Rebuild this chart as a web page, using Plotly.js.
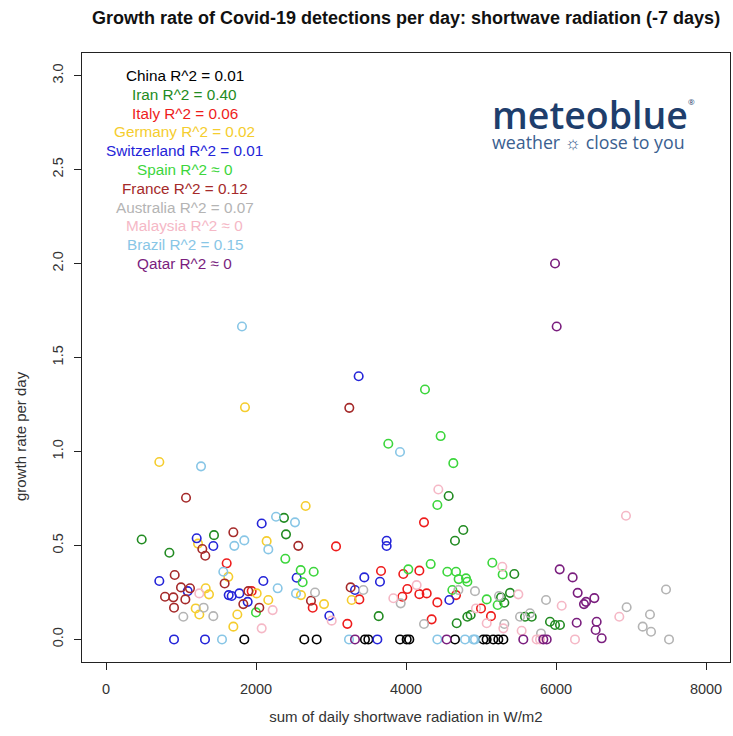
<!DOCTYPE html>
<html>
<head>
<meta charset="utf-8">
<script src="https://cdn.plot.ly/plotly-3.0.1.min.js"></script>
<style>html,body{margin:0;padding:0;background:#fff;}#chart{width:733px;height:736px;}</style>
</head>
<body>
<div id="chart"></div>
<script>
const countries = ["China","Iran","Italy","Germany","Switzerland","Spain","France","Australia","Malaysia","Brazil","Qatar"];
const r2Labels = ["0.01","0.40","0.06","0.02","0.01","≈ 0","0.12","0.07","≈ 0","0.15","≈ 0"];
const colors = ["#000000","#228B22","#EE1C1C","#F5CD2E","#2424D8","#3CD63C","#A52A2A","#B4B4B4","#F5B8C6","#88C6E6","#7A1E7E"];

const chinaX = [1844,2644,2809,3453,3498,3920,4009,4044,4653,5031,5075,5164,5231,5298];
const chinaY = [0,0,0,0,0,0,0,0,0,0,0,0,0,0];

const iranX = [476,845,1440,2373,2400,4569,4764,4653,3636,4818,4862,4676,5444,5387,5267,5311,5587,5676,5920,5987,6053];
const iranY = [0.532,0.461,0.555,0.647,0.559,0.763,0.582,0.525,0.124,0.121,0.13,0.086,0.348,0.248,0.224,0.195,0.121,0.121,0.094,0.077,0.077];

const italyX = [1609,1942,2756,3067,3218,4240,3667,3964,4178,4018,4178,4276,3951,4418,3378,4342,5000,5133,4667];
const italyY = [0.405,0.257,0.169,0.495,0.083,0.623,0.364,0.348,0.366,0.268,0.241,0.245,0.227,0.197,0.213,0.107,0.165,0.124,0.236];

const germanyX = [711,1853,2662,1227,1329,1373,1196,1244,2142,2600,2907,2009,2164,1751,1698,3276,1631];
const germanyY = [0.944,1.235,0.71,0.51,0.272,0.24,0.165,0.133,0.523,0.236,0.188,0.245,0.21,0.133,0.068,0.21,0.333];

const switzerlandX = [1209,1431,711,1089,907,1320,1636,3369,2076,2542,2098,1676,1778,1889,2978,3742,3742,3444,3653,3320,4578,3618];
const switzerlandY = [0.538,0.497,0.311,0.257,0,0,0.236,1.40,0.617,0.328,0.311,0.231,0.245,0.2,0.126,0.525,0.497,0.33,0.307,0.263,0.21,0];

const spainX = [4253,4462,3764,4631,4418,2391,2596,2769,2622,2000,4031,4329,4551,4667,4702,4800,4818,4618,5151,5289,5076,5222];
const spainY = [1.33,1.082,1.041,0.938,0.715,0.429,0.369,0.36,0.304,0.144,0.373,0.401,0.36,0.36,0.321,0.325,0.307,0.263,0.408,0.346,0.213,0.183];

const franceX = [1067,1284,1324,916,1000,1120,787,898,1058,907,1582,3244,1698,2564,2733,1898,1831,2044,3262];
const franceY = [0.754,0.481,0.445,0.343,0.277,0.272,0.227,0.224,0.213,0.169,0.298,1.232,0.57,0.498,0.206,0.257,0.188,0.169,0.277];

const australiaX = [1302,1031,1431,2787,3431,3929,4240,4698,4920,5240,5311,5867,5520,5653,5800,7467,6942,7253,7156,7267,7507];
const australiaY = [0.169,0.121,0.124,0.25,0.263,0.192,0.082,0.263,0.257,0.231,0.082,0.21,0.121,0.139,0.032,0.266,0.171,0.133,0.068,0.041,0];

const malaysiaX = [1244,2222,2076,3009,4431,4142,3831,4933,5284,5498,5076,5298,6076,5542,6253,6933,6844,5742,5787];
const malaysiaY = [0.245,0.156,0.059,0.1,0.798,0.289,0.219,0.165,0.387,0.24,0.086,0.059,0.179,0.046,0,0.658,0.121,0,0];

const brazilX = [1813,3920,1267,1564,1547,2267,2520,1844,1711,2164,2289,2533,3240,4418,4787,4898,4920];
const brazilY = [1.665,0.997,0.921,0.36,0,0.653,0.623,0.527,0.498,0.479,0.272,0.245,0,0,0,0,0];

const qatarX = [5987,6009,6049,6222,6289,6511,6373,6400,6276,6542,6529,6609,3320,4542,5564,5831,5876];
const qatarY = [2.0,1.665,0.373,0.33,0.248,0.22,0.188,0.2,0.089,0.094,0.05,0.006,0,0,0,0,0];

const seriesX = [chinaX,iranX,italyX,germanyX,switzerlandX,spainX,franceX,australiaX,malaysiaX,brazilX,qatarX];
const seriesY = [chinaY,iranY,italyY,germanyY,switzerlandY,spainY,franceY,australiaY,malaysiaY,brazilY,qatarY];

const xTicks = [0,2000,4000,6000,8000];
const yTicks = [0,0.5,1,1.5,2,2.5,3];
const yTickText = ["0.0","0.5","1.0","1.5","2.0","2.5","3.0"];

const traces = countries.map((c,i)=>({
  type:"scatter", mode:"markers", name:c,
  x:seriesX[i], y:seriesY[i],
  marker:{symbol:"circle-open", size:8.5, color:colors[i], line:{width:1.6, color:colors[i]}},
  hoverinfo:"x+y+name"
}));

const font = "Liberation Sans, Arial, sans-serif";
const annotations = countries.map((c,i)=>({
  xref:"x", yref:"y", x:1050, y:3.0-0.1*i,
  text: c + " R^2 " + (r2Labels[i].startsWith("≈") ? r2Labels[i] : "= " + r2Labels[i]),
  showarrow:false, xanchor:"center", yanchor:"middle",
  font:{family:font, size:15.3, color:colors[i]}
}));
annotations.push({xref:"paper", yref:"paper", x:0.630, y:0.944, xanchor:"left", yanchor:"top", align:"left",
  text:"<span style='font-size:37.5px;font-weight:600;fill:#1E3E6C'>meteoblue</span><span style='font-size:8px;fill:#1E3E6C;baseline-shift:24px'>®</span>" +
       "<br><span style='font-size:17.8px;fill:#3A6090'>weather ☼ close to you</span>",
  showarrow:false, font:{family:"Open Sans, sans-serif", size:15.4, color:"#1E3E6C"}});
annotations.push({xref:"paper", yref:"paper", x:-0.0957, y:0.371, xanchor:"center", yanchor:"middle",
  text:"growth rate per day", textangle:-90, showarrow:false,
  font:{family:font, size:15, color:"#333"}});

const layout = {
  width:733, height:736,
  margin:{l:82, r:3, t:53, b:74},
  paper_bgcolor:"#ffffff", plot_bgcolor:"#ffffff",
  showlegend:false,
  title:{text:"<b>Growth rate of Covid-19 detections per day: shortwave radiation (-7 days)</b>",
    x:0.554, xanchor:"center", y:0.976, yanchor:"middle",
    font:{family:font, size:18, color:"#111"}},
  xaxis:{range:[-320,8320], tickvals:xTicks, ticktext:xTicks.map(String), ticks:"outside", ticklen:7, tickcolor:"#222",
    showline:true, mirror:true, linecolor:"#222", linewidth:1.2, showgrid:false, zeroline:false,
    tickfont:{family:font, size:14.5, color:"#333"}, ticklabelstandoff:6,
    title:{text:"sum of daily shortwave radiation in W/m2", font:{family:font, size:15, color:"#333"}, standoff:16}},
  yaxis:{range:[-0.12,3.12], tickvals:yTicks, ticktext:yTickText, tickangle:-90, ticks:"outside", ticklen:7, tickcolor:"#222",
    showline:true, mirror:true, linecolor:"#222", linewidth:1.2, showgrid:false, zeroline:false,
    tickfont:{family:font, size:14.5, color:"#333"}, ticklabelstandoff:5},
  annotations:annotations
};

Plotly.newPlot("chart", traces, layout, {staticPlot:true, displayModeBar:false});
</script>
</body>
</html>
